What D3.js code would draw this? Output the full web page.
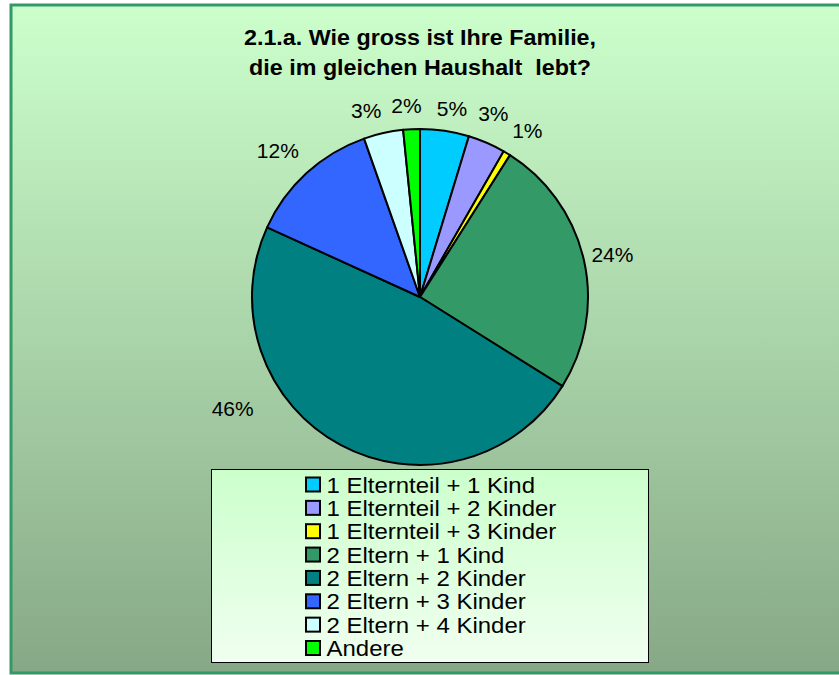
<!DOCTYPE html>
<html><head><meta charset="utf-8">
<script src="https://cdn.jsdelivr.net/npm/d3@7"></script>
<style>body{margin:0;background:#fff;} svg{display:block;}</style>
</head><body>
<script>
const categories = ["1 Elternteil + 1 Kind","1 Elternteil + 2 Kinder","1 Elternteil + 3 Kinder","2 Eltern + 1 Kind","2 Eltern + 2 Kinder","2 Eltern + 3 Kinder","2 Eltern + 4 Kinder","Andere"];
const values = [4.7, 3.6, 0.7, 24.9, 47.9, 12.8, 3.8, 1.6];
const labels = ["5%","3%","1%","24%","46%","12%","3%","2%"];
const colors = ["#00ccff","#9999ff","#ffff00","#339966","#008080","#3366ff","#ccffff","#00ff00"];
const titleLines = ["2.1.a. Wie gross ist Ihre Familie,","die im gleichen Haushalt  lebt?"];

const W = 839, H = 675;
const svg = d3.select("body").append("svg").attr("width", W).attr("height", H);
const defs = svg.append("defs");
const bg = defs.append("linearGradient").attr("id","bg").attr("x1",0).attr("y1",0).attr("x2",0).attr("y2",1);
bg.append("stop").attr("offset","0%").attr("stop-color","#ccffcc");
bg.append("stop").attr("offset","100%").attr("stop-color","#87a886");
const lg = defs.append("linearGradient").attr("id","lg").attr("x1",0).attr("y1",0).attr("x2",0).attr("y2",1);
lg.append("stop").attr("offset","0%").attr("stop-color","#ccffcc");
lg.append("stop").attr("offset","100%").attr("stop-color","#f0fff0");

svg.append("rect").attr("x",11).attr("y",5).attr("width",840).attr("height",668)
  .attr("fill","url(#bg)").attr("stroke","#339966").attr("stroke-width",3);

const font = "'Liberation Sans', Arial, sans-serif";
const title = svg.append("g").attr("transform","translate(420,0) scale(1.06,1)");
titleLines.forEach((t,i)=>{
  title.append("text").attr("x",0).attr("y",45+i*30).attr("text-anchor","middle")
    .attr("font-family",font).attr("font-weight","bold").attr("font-size",22).attr("fill","#000")
    .attr("xml:space","preserve").style("white-space","pre").text(t);
});

const cx = 420, cy = 297, r = 168;
const pie = d3.pie().sort(null).value(d=>d);
const arcs = pie(values);
const arc = d3.arc().innerRadius(0).outerRadius(r);
const g = svg.append("g").attr("transform",`translate(${cx},${cy})`);
g.selectAll("path").data(arcs).enter().append("path")
  .attr("d",arc).attr("fill",(d,i)=>colors[i]).attr("stroke","#000").attr("stroke-width",2).attr("stroke-linejoin","round");

// labels: placed outside the slice centroid angle, with small nudges (degrees) to avoid overlap as in the original
const nudgeDeg = [1.15, -1.6, 1.7, 0.4, 31, -1.7, -3.5, -1.15];
const labelR   = [191, 197.5, 198, 197, 218, 204, 194, 192];
arcs.forEach((d,i)=>{
  const a = (d.startAngle+d.endAngle)/2 + nudgeDeg[i]*Math.PI/180;
  const R = labelR[i];
  g.append("text").attr("x", R*Math.sin(a)).attr("y", -R*Math.cos(a))
    .attr("text-anchor","middle").attr("dy","0.35em")
    .attr("font-family",font).attr("font-size",21).attr("fill","#000").text(labels[i]);
});

// legend
svg.append("rect").attr("x",211.5).attr("y",469.5).attr("width",437).attr("height",193)
  .attr("fill","url(#lg)").attr("stroke","#000").attr("stroke-width",1);
const leg = svg.append("g");
const ly = d3.scaleLinear().domain([0, categories.length-1]).range([484.5, 648]);
categories.forEach((c,i)=>{
  leg.append("rect").attr("x",306).attr("y",ly(i)-7).attr("width",14).attr("height",14)
    .attr("fill",colors[i]).attr("stroke","#000").attr("stroke-width",2);
  leg.append("text").attr("transform",`translate(326.5,${ly(i)+8}) scale(1.09,1)`)
    .attr("font-family",font).attr("font-size",22).attr("fill","#000").text(c);
});
</script>
</body></html>
